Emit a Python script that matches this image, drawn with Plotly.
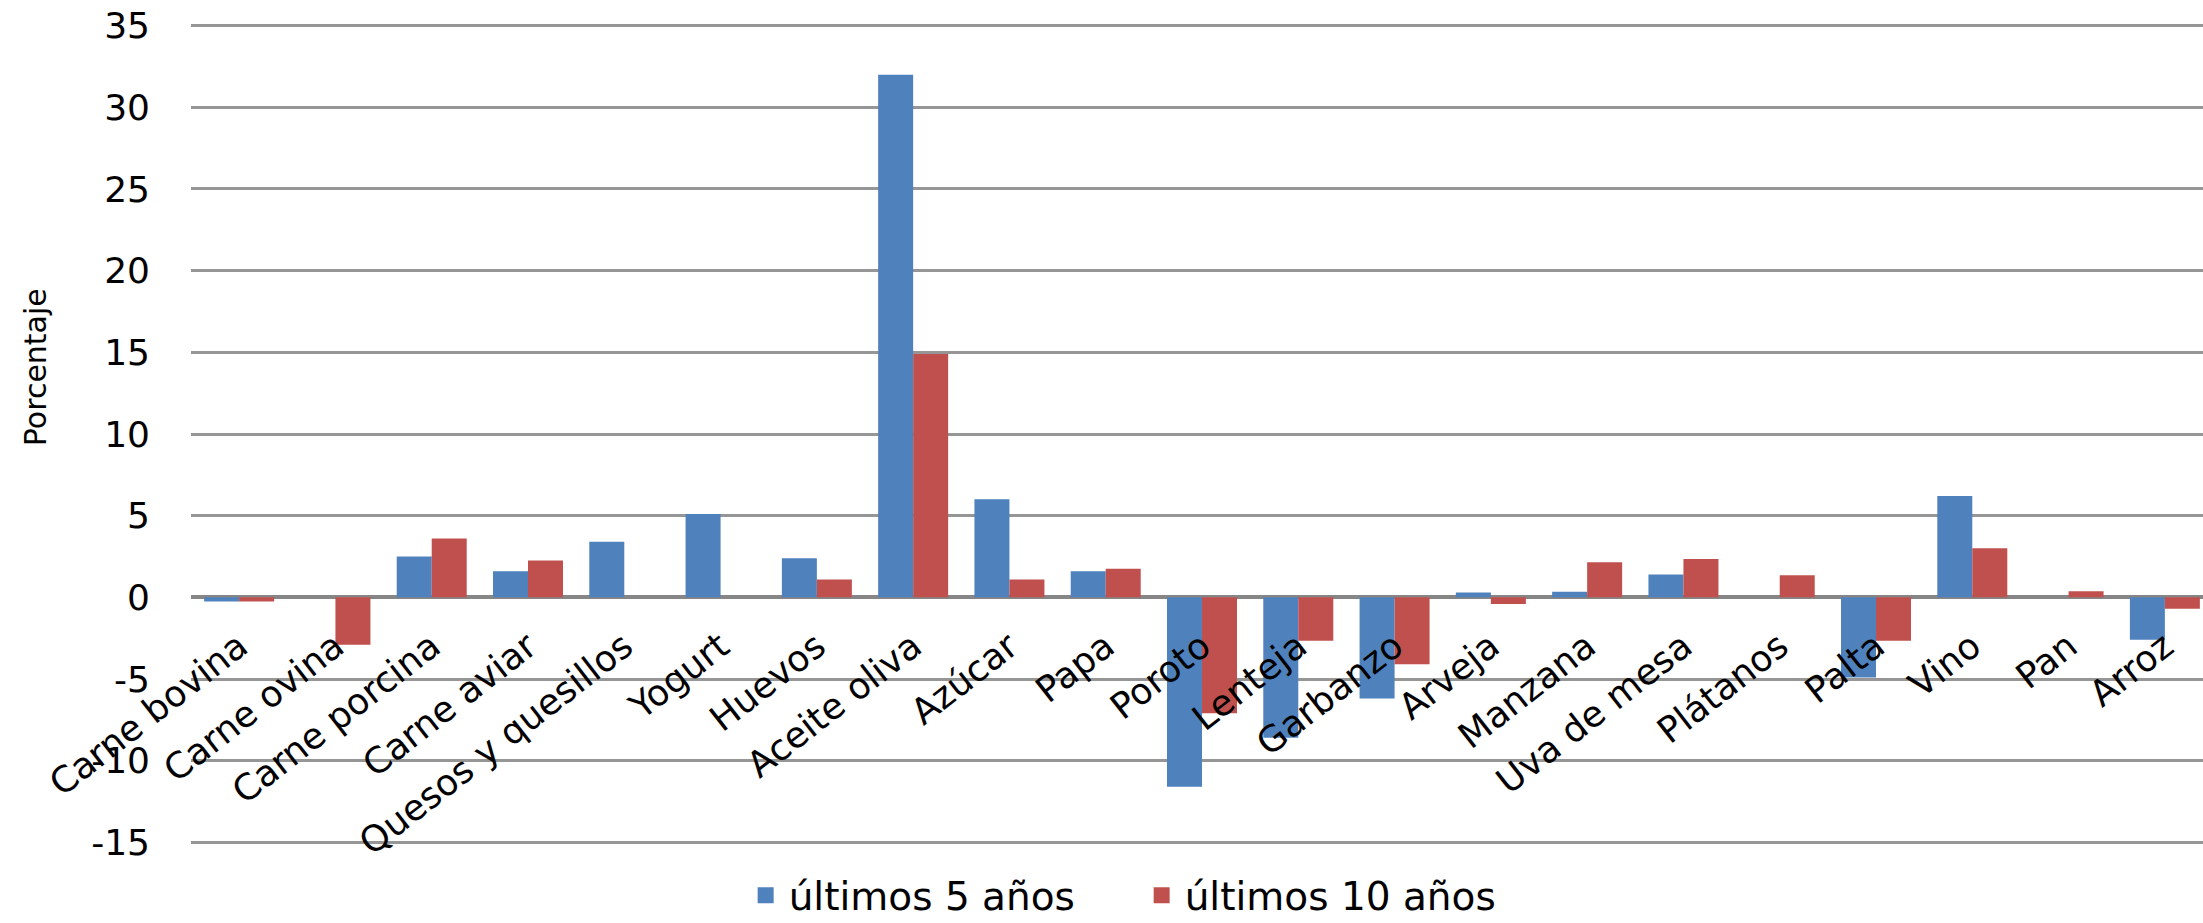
import plotly.graph_objects as go

categories = ["Carne bovina", "Carne ovina", "Carne porcina", "Carne aviar",
              "Quesos y quesillos", "Yogurt", "Huevos", "Aceite oliva", "Azúcar",
              "Papa", "Poroto", "Lenteja", "Garbanzo", "Arveja", "Manzana",
              "Uva de mesa", "Plátanos", "Palta", "Vino", "Pan", "Arroz"]
ultimos_5 = [-0.25, 0, 2.5, 1.6, 3.4, 5.1, 2.4, 32.0, 6.0, 1.6, -11.6, -8.6,
             -6.2, 0.3, 0.35, 1.4, 0, -4.9, 6.2, 0, -2.6]
ultimos_10 = [-0.25, -2.9, 3.6, 2.25, 0, 0, 1.1, 14.9, 1.1, 1.75, -7.1, -2.65,
              -4.1, -0.4, 2.15, 2.35, 1.35, -2.65, 3.0, 0.37, -0.7]
series_names = ["últimos 5 años", "últimos 10 años"]
y_tick_values = [-15, -10, -5, 0, 5, 10, 15, 20, 25, 30, 35]
y_tick_labels = ["-15", "-10", "-5", "0", "5", "10", "15", "20", "25", "30", "35"]

BLUE = "#4F81BD"
RED = "#C0504D"

fig = go.Figure()
fig.add_trace(go.Bar(x=categories, y=ultimos_5, name=series_names[0],
                     marker=dict(color=BLUE, line=dict(width=0)),
                     showlegend=False))
fig.add_trace(go.Bar(x=categories, y=ultimos_10, name=series_names[1],
                     marker=dict(color=RED, line=dict(width=0)),
                     showlegend=False))
# legend proxies (square swatches)
for nm, col in zip(series_names, [BLUE, RED]):
    fig.add_trace(go.Scatter(x=[None], y=[None], mode="markers", name=nm,
                             marker=dict(symbol="square", size=16, color=col),
                             showlegend=True))

fig.update_layout(
    width=2203, height=923,
    margin=dict(l=191, r=0, t=24, b=79, autoexpand=False),
    paper_bgcolor="white", plot_bgcolor="white",
    barmode="group", bargap=0.273, bargroupgap=0,
    font=dict(family="DejaVu Sans", color="black"),
    showlegend=True,
    legend=dict(orientation="h", x=0.471, xanchor="center",
                yref="container", y=0.03, yanchor="middle",
                font=dict(family="DejaVu Sans", size=39, color="black"),
                itemsizing="trace", entrywidth=345, itemwidth=36),
    xaxis=dict(
        range=[-0.5, 20.396],
        anchor="free", position=15.1 / 50.2,
        showgrid=False, showline=False, zeroline=False, ticks="",
        tickangle=-38,
        tickfont=dict(family="DejaVu Sans", size=36, color="black"),
        ticklabelstandoff=20,
    ),
    yaxis=dict(
        range=[-15.1, 35.1],
        tickvals=y_tick_values, ticktext=y_tick_labels,
        showgrid=True, gridcolor="#969696", gridwidth=3,
        zeroline=True, zerolinecolor="#868686", zerolinewidth=4,
        showline=False, ticks="",
        tickfont=dict(family="DejaVu Sans", size=36, color="black"),
        ticklabelstandoff=40,
    ),
    annotations=[dict(
        text="Porcentaje", textangle=-90, showarrow=False,
        xref="paper", yref="paper",
        x=(35 - 191) / 2012, y=(843.6 - 367) / 819.6,
        xanchor="center", yanchor="middle",
        font=dict(family="DejaVu Sans", size=30, color="black"),
    )],
)

fig.write_html("out.html")
